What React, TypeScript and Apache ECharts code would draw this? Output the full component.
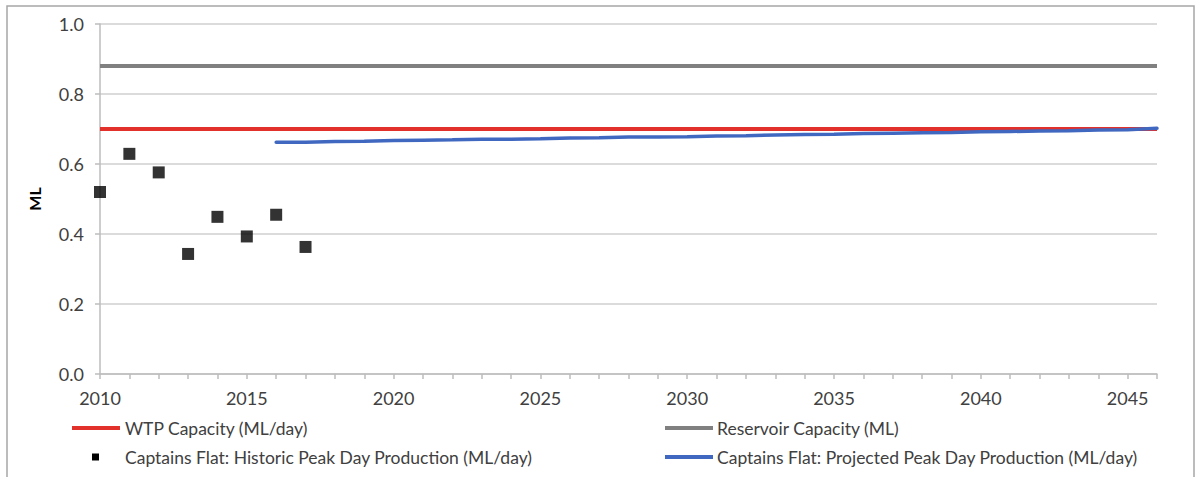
import React, { useEffect, useRef } from "react";
import * as echarts from "echarts";

// Years on the horizontal axis (2010–2046)
const years: string[] = [
  "2010", "2011", "2012", "2013", "2014", "2015", "2016", "2017", "2018", "2019",
  "2020", "2021", "2022", "2023", "2024", "2025", "2026", "2027", "2028", "2029",
  "2030", "2031", "2032", "2033", "2034", "2035", "2036", "2037", "2038", "2039",
  "2040", "2041", "2042", "2043", "2044", "2045", "2046",
];

const wtpName = "WTP Capacity (ML/day)";
const reservoirName = "Reservoir Capacity (ML)";
const historicName = "Captains Flat: Historic Peak Day Production (ML/day)";
const projectedName = "Captains Flat: Projected Peak Day Production (ML/day)";

const wtpCapacity = 0.7;
const reservoirCapacity = 0.88;

// Historic peak day production, 2010–2017
const historicYears: string[] = ["2010", "2011", "2012", "2013", "2014", "2015", "2016", "2017"];
const historicValues: number[] = [0.52, 0.629, 0.576, 0.343, 0.449, 0.393, 0.455, 0.363];

// Projected peak day production, 2016–2046
const projectedYears: string[] = years.slice(6);
const projectedValues: number[] = [
  0.662, 0.662, 0.664, 0.665, 0.667, 0.668, 0.669, 0.671, 0.671, 0.672,
  0.674, 0.675, 0.677, 0.677, 0.678, 0.68, 0.681, 0.683, 0.684, 0.685,
  0.687, 0.688, 0.689, 0.69, 0.692, 0.693, 0.694, 0.695, 0.697, 0.698,
  0.702,
];

const yTicks: number[] = [0, 0.2, 0.4, 0.6, 0.8, 1.0];

const RED = "#e2302a";
const GREY = "#808080";
const BLUE = "#4068c0";
const TEXT = "#404040";
const FONT = "Lato, 'Noto Sans', sans-serif";

export default function App() {
  const ref = useRef<HTMLDivElement>(null);

  useEffect(() => {
    if (!ref.current) return;
    const chart = echarts.init(ref.current, null, { renderer: "svg" });

    const legendRow1 = 428;
    const legendRow2 = 457;
    const legendText = (x: number, y: number, text: string) => ({
      type: "text",
      x,
      y,
      style: {
        text,
        fill: TEXT,
        font: `17.5px ${FONT}`,
        textVerticalAlign: "middle",
      },
    });
    const legendLine = (x: number, y: number, color: string) => ({
      type: "line",
      shape: { x1: x, y1: y, x2: x + 48, y2: y },
      style: { stroke: color, lineWidth: 4 },
    });

    chart.setOption({
      animation: false,
      backgroundColor: "#ffffff",
      textStyle: { fontFamily: FONT },
      grid: { left: 100, right: 39, top: 24, bottom: 103, containLabel: false },
      xAxis: {
        type: "category",
        data: years,
        boundaryGap: false,
        axisLine: { show: true, lineStyle: { color: "#bdbdbd", width: 1.5 } },
        axisTick: { show: true, interval: 0, length: 5, lineStyle: { color: "#bdbdbd", width: 1.5 } },
        axisLabel: {
          interval: 4,
          color: TEXT,
          fontSize: 18,
          fontFamily: FONT,
          margin: 15,
        },
        splitLine: { show: false },
      },
      yAxis: {
        type: "value",
        min: yTicks[0],
        max: yTicks[yTicks.length - 1],
        interval: 0.2,
        name: "ML",
        nameLocation: "middle",
        nameGap: 58,
        nameRotate: 90,
        nameTextStyle: { color: "#000000", fontSize: 16, fontWeight: "bold", fontFamily: FONT },
        axisLine: { show: true, lineStyle: { color: "#bdbdbd", width: 1.5 } },
        axisTick: { show: true, length: 5, lineStyle: { color: "#bdbdbd", width: 1.5 } },
        axisLabel: {
          color: TEXT,
          fontSize: 18,
          fontFamily: FONT,
          margin: 16,
          formatter: (v: number) => v.toFixed(1),
        },
        splitLine: { show: true, lineStyle: { color: "#cfcfcf", width: 1.5 } },
      },
      series: [
        {
          name: wtpName,
          type: "line",
          data: years.map((y) => [y, wtpCapacity]),
          symbol: "none",
          lineStyle: { color: RED, width: 4 },
          z: 3,
        },
        {
          name: reservoirName,
          type: "line",
          data: years.map((y) => [y, reservoirCapacity]),
          symbol: "none",
          lineStyle: { color: GREY, width: 4 },
          z: 3,
        },
        {
          name: historicName,
          type: "scatter",
          data: historicYears.map((y, i) => [y, historicValues[i]]),
          symbol: "rect",
          symbolSize: 12,
          itemStyle: { color: "#000000" },
          z: 4,
        },
        {
          name: projectedName,
          type: "line",
          data: projectedYears.map((y, i) => [y, projectedValues[i]]),
          symbol: "none",
          lineStyle: { color: BLUE, width: 3.5, cap: "round" },
          z: 4,
        },
      ],
      graphic: [
        {
          type: "rect",
          shape: { x: 7, y: 6, width: 1187, height: 520 },
          style: { fill: "none", stroke: "#a6a6a6", lineWidth: 1.5 },
          silent: true,
        },
        legendLine(72, legendRow1, RED),
        legendText(125, legendRow1, wtpName),
        {
          type: "rect",
          shape: { x: 92, y: legendRow2 - 3.5, width: 7, height: 7 },
          style: { fill: "#000000" },
        },
        legendText(125, legendRow2, historicName),
        legendLine(665, legendRow1, GREY),
        legendText(717, legendRow1, reservoirName),
        legendLine(665, legendRow2, BLUE),
        legendText(717, legendRow2, projectedName),
      ],
    });

    return () => chart.dispose();
  }, []);

  return (
    <div
      ref={ref}
      style={{ position: "fixed", left: 0, top: 0, width: 1196, height: 477 }}
    />
  );
}
